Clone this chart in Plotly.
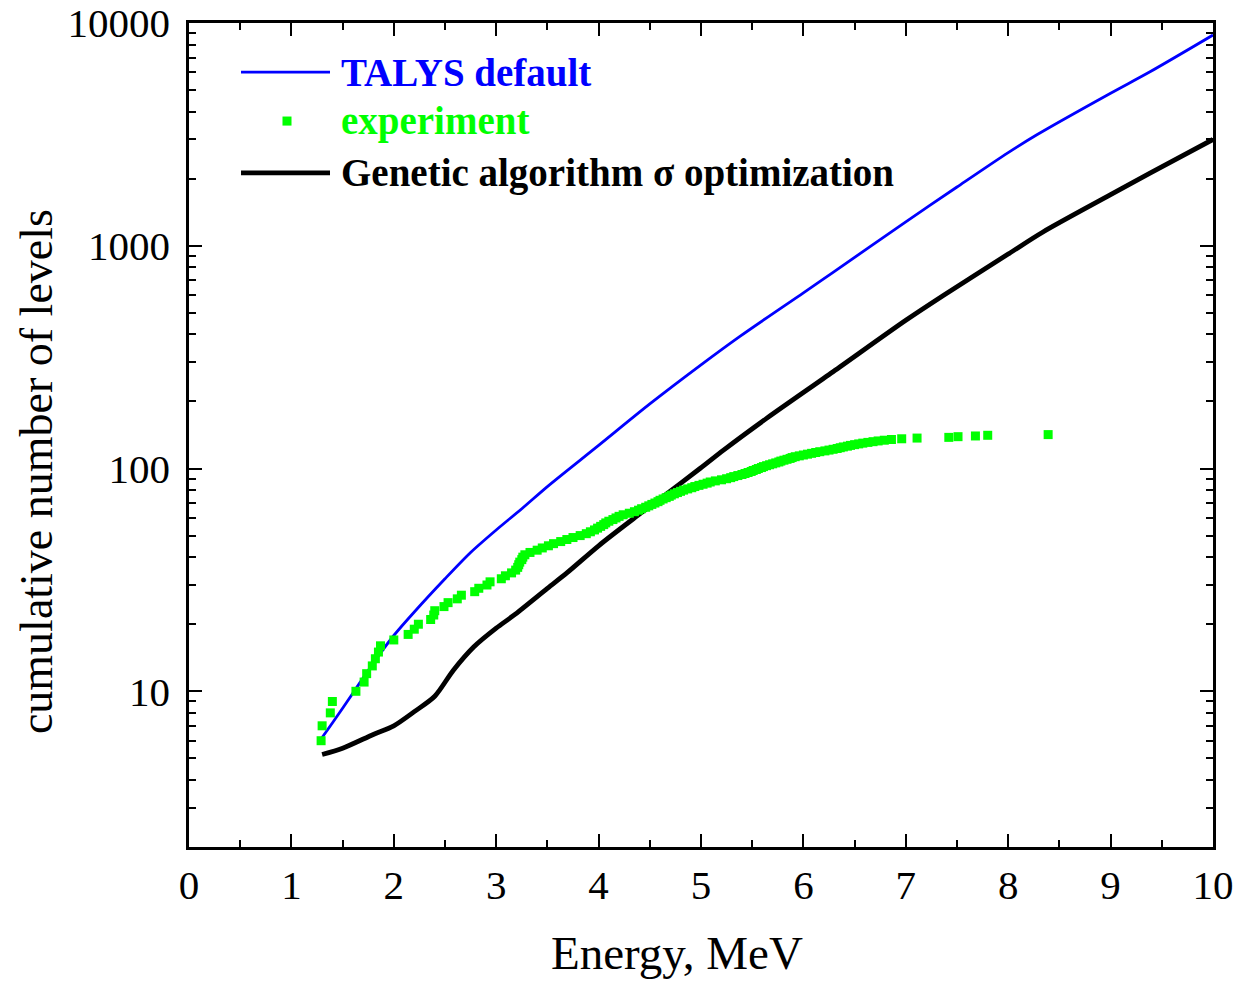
import plotly.graph_objects as go

# ---- data ----
talys_E = [1.3, 1.4, 1.6, 1.8, 2.0, 2.2, 2.5, 2.75, 3.0, 3.25, 3.5, 4.0, 4.5, 5.0, 5.38, 6.0, 6.29, 7.0, 7.5, 8.0, 8.28, 9.0, 9.385, 10.0]
talys_N = [6.2, 7.2, 9.8, 13.4, 17.8, 22.7, 32, 42, 53, 66, 83, 127, 195, 292, 392, 615, 760, 1280, 1836, 2620, 3150, 4840, 6040, 8830]

ga_E = [1.3, 1.5, 1.8, 2.0, 2.2, 2.4, 2.58, 2.78, 3.0, 3.17, 3.5, 3.69, 4.0, 4.34, 4.6, 4.99, 5.22, 5.64, 6.29, 7.0, 7.37, 8.0, 8.34, 9.0, 9.385, 10.0]
ga_N = [5.2, 5.55, 6.4, 7.0, 8.1, 9.5, 12.4, 15.8, 19.2, 21.9, 29, 34, 45, 59.5, 73, 100, 121, 168, 272, 463, 600, 918, 1153, 1695, 2120, 3000]

exp_E = [1.29, 1.30, 1.38, 1.40, 1.63, 1.71, 1.735, 1.79, 1.82, 1.85, 1.87, 2.00, 2.14, 2.20, 2.24,
         2.36, 2.39, 2.40, 2.49, 2.53, 2.62, 2.66, 2.79, 2.83, 2.91, 2.94, 3.05, 3.09, 3.15, 3.19,
         3.21, 3.22, 3.23, 3.25, 3.26, 3.28, 3.33, 3.40, 3.45, 3.51, 3.56, 3.63, 3.69, 3.75, 3.82,
         3.88, 3.92, 3.96, 3.99, 4.02, 4.05, 4.07, 4.10, 4.14, 4.17, 4.20, 4.24, 4.30, 4.35, 4.39,
         4.42, 4.46, 4.49, 4.52, 4.55, 4.58, 4.60, 4.63, 4.66, 4.69, 4.71, 4.74, 4.77, 4.80, 4.83,
         4.87, 4.91, 4.94, 4.98, 5.02, 5.06, 5.09, 5.14, 5.20, 5.25, 5.29, 5.32, 5.36, 5.40, 5.43,
         5.46, 5.49, 5.51, 5.54, 5.56, 5.59, 5.61, 5.64, 5.67, 5.70, 5.73, 5.76, 5.78, 5.81, 5.84,
         5.87, 5.89, 5.92, 5.96, 6.00, 6.04, 6.08, 6.12, 6.16, 6.21, 6.25, 6.29, 6.33, 6.36, 6.39,
         6.43, 6.46, 6.50, 6.54, 6.58, 6.63, 6.68, 6.73, 6.79, 6.86, 6.96,
         7.11, 7.42, 7.51, 7.68, 7.80, 8.39]
exp_N = list(range(6, 143))

x_ticks = [0, 1, 2, 3, 4, 5, 6, 7, 8, 9, 10]
y_ticks = [10, 100, 1000, 10000]
y_ticktext = ["10", "100", "1000", "10000"]
y_minor = [m * d for d in (1, 10, 100, 1000) for m in range(2, 10)]

legend_labels = ["TALYS default", "experiment", "Genetic algorithm σ optimization"]

BLUE = "#0000ff"
GREEN = "#00ff00"
BLACK = "#000000"
FONT = "Liberation Serif"

fig = go.Figure()
fig.add_trace(go.Scatter(x=talys_E, y=talys_N, mode="lines", line=dict(color=BLUE, width=2.8, shape="spline", smoothing=0.8), showlegend=False))
fig.add_trace(go.Scatter(x=ga_E, y=ga_N, mode="lines", line=dict(color=BLACK, width=4.8, shape="spline", smoothing=0.8), showlegend=False))
fig.add_trace(go.Scatter(x=exp_E, y=exp_N, mode="markers", marker=dict(color=GREEN, size=9, symbol="square", line=dict(width=0)), showlegend=False))

axis_common = dict(
    showline=True, linecolor="black", linewidth=2.5, mirror="allticks",
    ticks="inside", ticklen=13, tickwidth=2, tickcolor="black",
    showgrid=False, zeroline=False, automargin=False,
    tickfont=dict(family=FONT, size=41, color="black"),
)

fig.update_xaxes(range=[0, 10], tickvals=x_ticks,
                 minor=dict(dtick=0.5, ticks="inside", ticklen=7, tickwidth=2, tickcolor="black", showgrid=False),
                 ticklabelstandoff=0, **axis_common)
fig.update_yaxes(type="log", range=[0.301, 4], tickvals=y_ticks, ticktext=y_ticktext,
                 minor=dict(tickvals=y_minor, ticks="inside", ticklen=7, tickwidth=2, tickcolor="black", showgrid=False),
                 ticklabelstandoff=8, **axis_common)

# manual legend
L_x0, L_x1, L_tx = 0.0508, 0.1377, 0.1460
L_y = [0.9405, 0.881, 0.818]
fig.add_shape(type="line", xref="paper", yref="paper", x0=L_x0, x1=L_x1, y0=L_y[0], y1=L_y[0], line=dict(color=BLUE, width=2.8))
fig.add_shape(type="rect", xref="paper", yref="paper", x0=0.0957 - 0.0044, x1=0.0957 + 0.0044, y0=L_y[1] - 0.0055, y1=L_y[1] + 0.0055, fillcolor=GREEN, line=dict(width=0))
fig.add_shape(type="line", xref="paper", yref="paper", x0=L_x0, x1=L_x1, y0=L_y[2], y1=L_y[2], line=dict(color=BLACK, width=4.8))
for lab, yy, col in zip(legend_labels, L_y, [BLUE, GREEN, BLACK]):
    fig.add_annotation(text="<b>" + lab + "</b>", xref="paper", yref="paper", x=L_tx, y=yy,
                       xanchor="left", yanchor="middle", showarrow=False,
                       font=dict(family=FONT, size=39, color=col))

# axis titles
fig.add_annotation(text="Energy, MeV", xref="paper", yref="paper", x=0.4766, y=-0.129,
                   xanchor="center", yanchor="middle", showarrow=False,
                   font=dict(family=FONT, size=47, color="black"))
fig.add_annotation(text="cumulative number of levels", xref="paper", yref="paper", x=-0.1494, y=0.455,
                   xanchor="center", yanchor="middle", textangle=-90, showarrow=False,
                   font=dict(family=FONT, size=46, color="black"))

fig.update_layout(
    width=1235, height=981,
    margin=dict(l=189, r=22, t=23, b=134, autoexpand=False),
    plot_bgcolor="white", paper_bgcolor="white",
    showlegend=False,
)

# remove the default page margin so the figure sits at the window's top-left corner
fig.write_html("out.html", config={"displayModeBar": False},
               post_script="document.body.style.margin='0px';")
